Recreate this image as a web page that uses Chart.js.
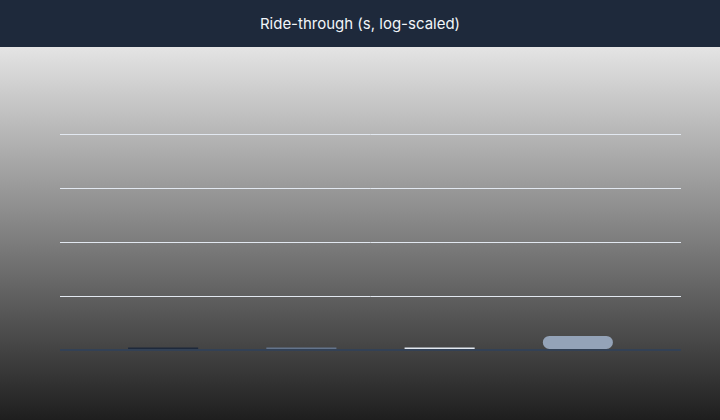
<!DOCTYPE html>
<html>
<head>
<meta charset="utf-8">
<script src="https://cdn.jsdelivr.net/npm/chart.js@4"></script>
<style>
  html, body { margin: 0; padding: 0; width: 720px; height: 420px; overflow: hidden; }
  #header { height: 47px; background: #1e293b; color: #f1f5f9; font-family: Inter, "Noto Sans", sans-serif;
            font-size: 15px; line-height: 47px; text-align: center; }
  #wrap { position: relative; width: 720px; height: 373px; background: linear-gradient(to bottom, #e4e4e4 0%, #1e1e1e 100%); }
</style>
</head>
<body>
<div id="header">Ride-through (s, log-scaled)</div>
<div id="wrap"><canvas id="c"></canvas></div>
<script>
const categories = ["Unit A", "Unit B", "Unit C", "Unit D"];
const rideThrough = [0.045, 0.045, 0.045, 0.26];
const barColors = ["#1e293b", "#64748b", "#e2e8f0", "#94a3b8"];
const yTicks = [0, 1, 2, 3, 4];

const gridCfg = (onArea) => ({
  drawOnChartArea: onArea,
  drawTicks: true,
  tickLength: 34,
  color: (ctx) => (ctx.tick && ctx.tick.value === 0) ? "#334155" : "#e2e8f0",
  lineWidth: (ctx) => (ctx.tick && ctx.tick.value === 0) ? 2 : 1
});

new Chart(document.getElementById("c"), {
  type: "bar",
  data: {
    labels: categories,
    datasets: [{
      label: "Ride-through (s, log-scaled)",
      data: rideThrough,
      backgroundColor: barColors,
      borderWidth: 0,
      borderRadius: (ctx) => (ctx.raw !== undefined && ctx.raw < 0.1) ? 0 : 8,
      borderSkipped: false,
      categoryPercentage: 0.507,
      barPercentage: 1
    }]
  },
  options: {
    responsive: true,
    maintainAspectRatio: false,
    animation: false,
    layout: { padding: { left: 60, right: 39, top: 87, bottom: 70 } },
    plugins: { legend: { display: false }, title: { display: false }, tooltip: { enabled: false } },
    scales: {
      x: { display: false },
      y: {
        position: "left",
        min: yTicks[0], max: yTicks[yTicks.length - 1],
        ticks: { display: false, stepSize: 1 },
        border: { display: false },
        grid: gridCfg(true)
      },
      y2: {
        position: "right",
        min: yTicks[0], max: yTicks[yTicks.length - 1],
        ticks: { display: false, stepSize: 1 },
        border: { display: false },
        grid: gridCfg(false)
      }
    }
  }
});
</script>
</body>
</html>
